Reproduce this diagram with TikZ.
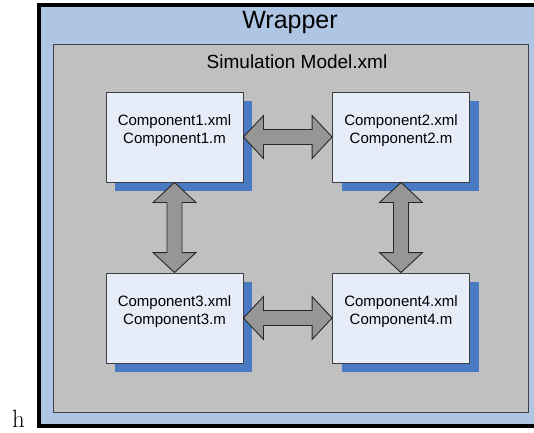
\documentclass[tikz,border=0pt]{standalone}
\usepackage{fontspec}
\setmainfont{Liberation Sans}
\newfontfamily\lmfont{Latin Modern Roman}
\usetikzlibrary{calc}

\definecolor{wrapblue}{RGB}{175,197,228}
\definecolor{modelgray}{RGB}{192,192,192}
\definecolor{edgegray}{RGB}{64,64,64}
\definecolor{compfill}{RGB}{231,237,248}
\definecolor{shadowblue}{RGB}{74,122,195}
\definecolor{arrowfill}{RGB}{150,150,150}
\definecolor{arrowedge}{RGB}{40,40,40}

\tikzset{
  comp/.style={draw=edgegray, line width=0.9pt, fill=compfill,
    minimum width=137pt, minimum height=90pt, inner sep=0pt},
  compshadow/.style={fill=shadowblue, draw=none,
    minimum width=137pt, minimum height=90pt, inner sep=0pt},
  comptext/.style={font=\fontsize{15}{17.5}\selectfont, align=center,
    inner sep=0pt, text=black},
  bigarrow/.style={fill=arrowfill, draw=arrowedge, line width=0.9pt, line join=miter},
}

% double-headed block arrow between two anchors (horizontal / vertical)
\newcommand{\hbiarrow}[2]{%
  \path[bigarrow] let \p1=(#1), \p2=(#2) in
    (\x1,\y1) -- (\x1+20pt,\y1+21.5pt) -- (\x1+20pt,\y1+7.5pt)
    -- (\x2-20pt,\y1+7.5pt) -- (\x2-20pt,\y1+21.5pt) -- (\x2,\y1)
    -- (\x2-20pt,\y1-21.5pt) -- (\x2-20pt,\y1-7.5pt)
    -- (\x1+20pt,\y1-7.5pt) -- (\x1+20pt,\y1-21.5pt) -- cycle;}
\newcommand{\vbiarrow}[2]{%
  \path[bigarrow] let \p1=(#1), \p2=(#2) in
    (\x1,\y1) -- (\x1+21.5pt,\y1-20pt) -- (\x1+7.5pt,\y1-20pt)
    -- (\x1+7.5pt,\y2+20pt) -- (\x1+21.5pt,\y2+20pt) -- (\x1,\y2)
    -- (\x1-21.5pt,\y2+20pt) -- (\x1-7.5pt,\y2+20pt)
    -- (\x1-7.5pt,\y1-20pt) -- (\x1-21.5pt,\y1-20pt) -- cycle;}

\begin{document}
\begin{tikzpicture}[x=1pt, y=-1pt]
  \clip (0,0) rectangle (534,432);
  \useasboundingbox (0,0) rectangle (534,432);

  % outer wrapper
  \node[draw=black, line width=3.5pt, fill=wrapblue, inner sep=0pt,
        minimum width=520pt, minimum height=421pt, anchor=north west]
        (wrapper) at (37,3.3) {};
  \node[font=\fontsize{25}{28}\selectfont, inner sep=0pt] (wraptitle) at (290,22) {Wrapper};

  % simulation model container
  \node[draw=edgegray, line width=1.2pt, fill=modelgray, inner sep=0pt,
        minimum width=475pt, minimum height=368pt, anchor=north west]
        (model) at (53,43.5) {};
  \node[font=\fontsize{19}{22}\selectfont, inner sep=0pt] (modeltitle) at (297,62) {Simulation Model.xml};

  % components with offset shadows
  \foreach \n/\cx/\cy in {1/174.5/137, 2/401/137, 3/174.5/318, 4/401/318} {
    \node[compshadow] (s\n) at (\cx+9,\cy+9) {};
    \node[comp] (c\n) at (\cx,\cy) {};
    \node[comptext] (t\n) at ([yshift=-39pt]c\n.north)
      {Component\n.xml\\Component\n.m};
  }

  % connectors
  \hbiarrow{c1.east}{c2.west}
  \hbiarrow{c3.east}{c4.west}
  \vbiarrow{c1.south}{c3.north}
  \vbiarrow{c2.south}{c4.north}

  % stray letter at lower left
  \node[font=\lmfont\fontsize{25}{28}\selectfont, inner sep=0pt, anchor=base] (h) at (18.5,427) {h};
\end{tikzpicture}
\end{document}
